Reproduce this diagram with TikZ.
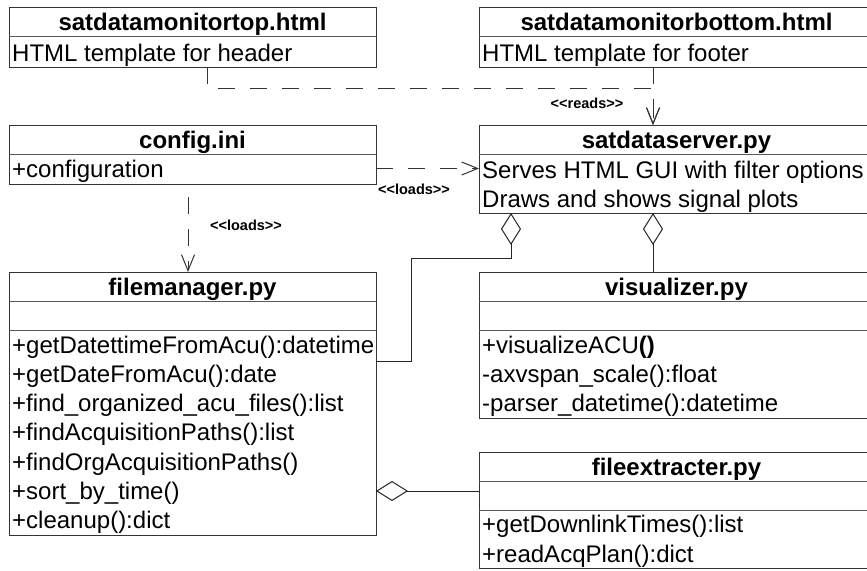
\documentclass[tikz,border=0pt]{standalone}
\usepackage{fontspec}
\setmainfont{Liberation Sans}
\usetikzlibrary{arrows.meta,calc}

% one UML class: name, x, y, width, height, title
\newcommand\classbox[6]{%
  \node[box, minimum width=#4pt, minimum height=#5pt] (#1) at (#2,#3) {};
  \node[classtitle] at ($(#1.north)+(0,23.5)$) {#6};
  \draw[divider] ($(#1.north west)+(0,29.5)$) -- ($(#1.north east)+(0,29.5)$);
}
% second divider for classes with an empty attribute compartment
\newcommand\opsdivider[1]{%
  \draw[divider] ($(#1.north west)+(0,58.5)$) -- ($(#1.north east)+(0,58.5)$);
}
% one member line: box, baseline offset, text
\newcommand\member[3]{%
  \node[membertext] at ($(#1.north west)+(3,#2)$) {#3};
}
% stereotype text with plain angle brackets
\newcommand\stereotype[1]{<{}<#1>{}>}

\begin{document}
\begin{tikzpicture}[x=1pt,y=-1pt,
  box/.style={draw=black!80, line width=1pt, anchor=north west, inner sep=0pt, outer sep=0pt},
  divider/.style={draw=black!65, line width=1pt},
  classtitle/.style={anchor=base, inner sep=0pt, font=\bfseries\fontsize{24}{28}\selectfont},
  membertext/.style={anchor=base west, inner sep=0pt, font=\fontsize{24}{28}\selectfont},
  stereo/.style={inner sep=0pt, font=\bfseries\fontsize{14.5}{16}\selectfont},
  dep/.style={draw=black!80, line width=1pt, dash pattern=on 17pt off 15pt,
    -{Straight Barb[length=16pt, width=13pt, line width=1pt]}},
  agg/.style={draw=black!85, line width=1pt,
    {Diamond[open, length=32pt, width=20pt, line width=1pt]}-},
]
\clip (0,0) rectangle (867,570);
\fill[white] (0,0) rectangle (867,570);

% classes
\classbox{top}{9}{7}{367}{60}{satdatamonitortop.html}
\member{top}{54}{HTML template for header}

\classbox{bottom}{479}{7}{395}{60}{satdatamonitorbottom.html}
\member{bottom}{54}{HTML template for footer}

\classbox{config}{9}{125}{367}{59}{config.ini}
\member{config}{52}{+configuration}

\classbox{server}{479}{125}{395}{88}{satdataserver.py}
\member{server}{53}{Serves HTML GUI with filter options}
\member{server}{82}{Draws and shows signal plots}

\classbox{fm}{9}{272}{367}{263}{filemanager.py}
\opsdivider{fm}
\member{fm}{81}{+getDatettimeFromAcu():datetime}
\member{fm}{110.3}{+getDateFromAcu():date}
\member{fm}{139.6}{+find\_organized\_acu\_files():list}
\member{fm}{168.9}{+findAcquisitionPaths():list}
\member{fm}{198.2}{+findOrgAcquisitionPaths()}
\member{fm}{227.5}{+sort\_by\_time()}
\member{fm}{256.8}{+cleanup():dict}

\classbox{vis}{479}{272}{395}{146}{visualizer.py}
\opsdivider{vis}
\member{vis}{81}{+visualizeACU\textbf{()}}
\member{vis}{110.3}{-axvspan\_scale():float}
\member{vis}{139.6}{-parser\_datetime():datetime}

\classbox{fx}{479}{452}{395}{116}{fileextracter.py}
\opsdivider{fx}
\member{fx}{80.5}{+getDownlinkTimes():list}
\member{fx}{110}{+readAcqPlan():dict}

% dependencies
\coordinate (readsjoin) at (653,88);
\draw[dep] ($(top.south west)+(198,0)$) |- (readsjoin) -- ($(server.north west)+(174,0)$);
\draw[dep] ($(bottom.south west)+(174,0)$) -- ($(server.north west)+(174,0)$);
\node[stereo] (readslbl) at (587,103) {\stereotype{reads}};

\draw[dep] ($(config.north east)+(0,43.5)$) -- ($(server.north west)+(0,43.5)$);
\node[stereo] (loadslbl1) at (414,189) {\stereotype{loads}};

\draw[dep, dash phase=19pt] ($(config.south west)+(179,0)$) -- ($(fm.north west)+(179,0)$);
\node[stereo] (loadslbl2) at (246,225) {\stereotype{loads}};

% aggregations
\coordinate (aggbend) at (411,258);
\draw[agg] ($(server.south west)+(32,0)$) |- (aggbend) |- ($(fm.north east)+(0,89)$);
\draw[agg] ($(server.south west)+(174,0)$) -- ($(vis.north west)+(174,0)$);
\draw[agg] ($(fm.north east)+(0,219)$) -- ($(fx.north west)+(0,39)$);
\end{tikzpicture}
\end{document}
